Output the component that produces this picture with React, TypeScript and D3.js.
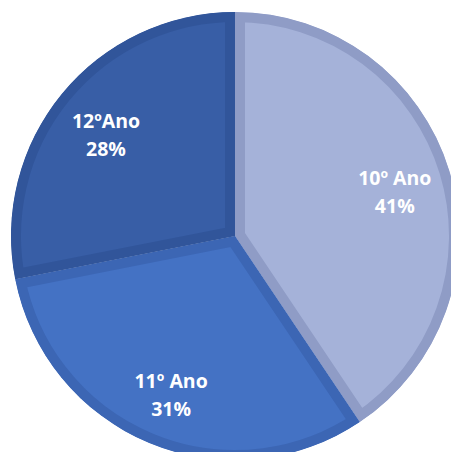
import React from "react";
import * as d3 from "d3";

const categories = ["10º Ano", "11º Ano", "12ºAno"];
const values = [40.6, 31.3, 28.1];
const labels = ["41%", "31%", "28%"];
const fillColors = ["#a5b2d9", "#4472c4", "#385ea6"];
const edgeColors = ["#8f9cc6", "#3c66b4", "#31559a"];

const W = 451;
const H = 452;
const cx = 235;
const cy = 236;
const R = 224;
const bevel = 10;
const labelR = 167;

export default function App() {
  const pie = d3.pie<number>().sort(null).value((d) => d);
  const arcs = pie(values);
  const arc = d3.arc<d3.PieArcDatum<number>>().innerRadius(0).outerRadius(R);
  const labelArc = d3
    .arc<d3.PieArcDatum<number>>()
    .innerRadius(labelR)
    .outerRadius(labelR);

  return (
    <svg
      width={W}
      height={H}
      style={{ position: "absolute", left: 0, top: 0 }}
    >
      <defs>
        {arcs.map((a, i) => (
          <clipPath id={`clip${i}`} key={i}>
            <path d={arc(a) || ""} />
          </clipPath>
        ))}
      </defs>
      <g transform={`translate(${cx},${cy})`}>
        {arcs.map((a, i) => (
          <path
            key={i}
            d={arc(a) || ""}
            fill={fillColors[i]}
            stroke={edgeColors[i]}
            strokeWidth={bevel * 2}
            strokeLinejoin="miter"
            clipPath={`url(#clip${i})`}
          />
        ))}
        {arcs.map((a, i) => {
          const [x, y] = labelArc.centroid(a);
          return (
            <text
              key={`t${i}`}
              textAnchor="middle"
              fill="#ffffff"
              fontFamily="'Open Sans', sans-serif"
              fontWeight="bold"
              fontSize={19.5}
            >
              <tspan x={x} y={y - 2}>
                {categories[i]}
              </tspan>
              <tspan x={x} y={y + 26}>
                {labels[i]}
              </tspan>
            </text>
          );
        })}
      </g>
    </svg>
  );
}
